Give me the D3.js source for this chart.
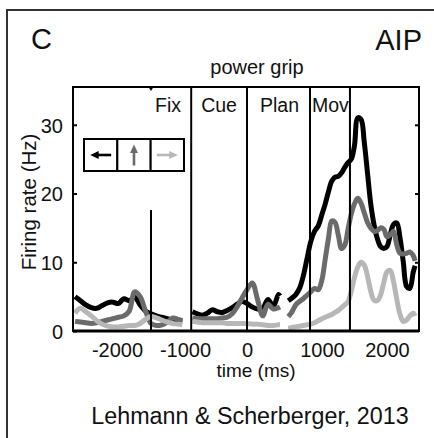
<!DOCTYPE html>
<html>
<head>
<meta charset="utf-8">
<script src="https://cdn.jsdelivr.net/npm/d3@7"></script>
<style>
  html, body { margin: 0; padding: 0; background: #fff; }
  svg { display: block; }
  text { font-family: "Liberation Sans", Arial, Helvetica, sans-serif; fill: #111; }
</style>
</head>
<body>
<svg id="chart" width="434" height="438"></svg>
<script>
// ---------------- data ----------------
const xTicks = [-2000, -1000, 0, 1000, 2000];
const yTicks = [0, 10, 20, 30];
const eventTimes = [-900, 0, 840, 1430];          // full-height epoch separators
const fixMarkTime = -1500;                       // partial marker line
const fixMarkValue = 17.6;
const epochNames = ["Fix", "Cue", "Plan", "Mov"];
const seriesNames = ["left", "up", "right"];
const seriesColors = ["#000000", "#6b6b6b", "#b7b7b7"];

const seg1Time = [-2620, -2540, -2460, -2380, -2300, -2220, -2140, -2060, -1980, -1900, -1820,
                  -1740, -1660, -1580, -1500, -1420, -1340, -1260, -1180, -1100, -1040];
const seg1Black = [5.0, 4.4, 3.8, 3.4, 3.3, 3.7, 4.1, 4.2, 4.0, 4.7, 4.4, 4.9, 3.8, 2.9, 2.5, 2.2, 2.0, 1.8, 1.6, 1.4, 1.3];
const seg1Dark  = [1.4, 1.3, 1.2, 1.1, 1.2, 1.4, 1.6, 1.8, 2.0, 2.2, 2.9, 5.7, 5.0, 2.9, 1.1, 0.8, 0.9, 1.3, 1.9, 1.7, 1.5];
const seg1Light = [2.6, 3.3, 2.8, 2.2, 1.5, 1.0, 0.7, 0.6, 0.6, 0.7, 0.8, 0.8, 1.1, 1.7, 2.1, 1.9, 1.6, 1.3, 1.1, 1.0, 0.9];

const seg2Time = [-880, -800, -720, -640, -560, -480, -400, -320, -240, -160, -80, 0, 70, 140, 210, 280, 350, 420, 440];
const seg2Black = [2.8, 2.5, 2.3, 2.6, 3.1, 2.8, 2.7, 3.0, 3.4, 3.9, 4.3, 4.0, 3.5, 3.2, 3.3, 4.6, 3.6, 5.3, 5.1];
const seg2Dark  = [1.9, 1.8, 1.8, 1.8, 1.8, 1.8, 1.9, 2.0, 2.5, 3.5, 4.8, 6.0, 7.0, 4.6, 2.2, 3.9, 3.2, 3.4, 3.5];
const seg2Light = [1.4, 1.3, 1.2, 1.2, 1.2, 1.2, 1.2, 1.1, 1.1, 1.1, 1.1, 1.1, 1.0, 1.0, 0.9, 0.8, 0.8, 0.9, 0.9];

const seg3Time = [550, 600, 650, 700, 750, 800, 850, 900, 950, 1000,
                  1050, 1100, 1150, 1200, 1250, 1300, 1350, 1400, 1450, 1500,
                  1550, 1600, 1650, 1700, 1750, 1800, 1850, 1900, 1950, 2000,
                  2050, 2100, 2150, 2200, 2250, 2300, 2350, 2400, 2430];
const seg3Black = [4.4, 4.8, 5.3, 6.2, 8.0, 10.5, 13.0, 14.5, 15.3, 17.0,
                   18.5, 20.3, 21.8, 22.4, 22.5, 23.0, 23.8, 24.5, 25.0, 27.0,
                   31.0, 30.8, 27.5, 23.0, 18.5, 15.5, 13.5, 12.3, 12.0, 12.3,
                   14.0, 15.5, 15.7, 13.5, 10.0, 6.5, 6.2, 8.5, 9.5];
const seg3Dark  = [2.1, 2.8, 3.8, 4.3, 4.7, 5.2, 5.7, 6.2, 6.0, 7.5,
                   10.5, 13.5, 16.0, 15.8, 14.0, 12.0, 12.5, 14.8, 17.0, 18.5,
                   19.3, 18.6, 17.2, 15.8, 15.0, 14.5, 14.6, 15.0, 14.8, 13.7,
                   14.0, 14.5, 12.5, 11.3, 11.2, 11.3, 11.5, 11.0, 10.2];
const seg3Light = [0.4, 0.5, 0.6, 0.7, 0.8, 0.9, 1.0, 1.2, 1.5, 1.8,
                   2.0, 2.2, 2.4, 2.7, 3.0, 3.4, 3.8, 4.3, 5.8, 7.8,
                   9.3, 10.0, 9.6, 8.0, 5.8, 4.5, 4.4, 5.2, 7.0, 8.6,
                   8.8, 7.2, 4.6, 2.4, 1.4, 1.6, 2.2, 2.6, 2.2];

// ---------------- layout ----------------
const svg = d3.select("#chart");
const W = 434, H = 438;
const plot = { left: 73, right: 419, top: 87, bottom: 331 };
const FONT = "'Liberation Sans', Arial, Helvetica, sans-serif";

// Piecewise (epoch-aligned) time axis
const xDomain = [-2650, -2000, -1000, 0, 1000, 2000, 2490];
const xRange  = [plot.left, 117, 185, 247, 322, 387, plot.right];
const x = d3.scaleLinear().domain(xDomain).range(xRange);
const y = d3.scaleLinear().domain([0, 35.5]).range([plot.bottom, plot.top]);
const fmt = d => String(d);   // plain hyphen-minus as in the original

svg.append("rect").attr("width", W).attr("height", H).attr("fill", "#fff");

// outer panel frame
svg.append("rect")
  .attr("x", 7).attr("y", 10).attr("width", 440).attr("height", 440)
  .attr("fill", "none").attr("stroke", "#333").attr("stroke-width", 2);

// panel letter and area
svg.append("text").attr("x", 31).attr("y", 49).attr("font-size", 29).text("C");
svg.append("text").attr("x", 422).attr("y", 50).attr("font-size", 29).attr("text-anchor", "end").text("AIP");
svg.append("text").attr("x", 257).attr("y", 74).attr("font-size", 20).attr("text-anchor", "middle").text("power grip");

// series lines
const segments = [
  { t: seg1Time, v: [seg1Black, seg1Dark, seg1Light] },
  { t: seg2Time, v: [seg2Black, seg2Dark, seg2Light] },
  { t: seg3Time, v: [seg3Black, seg3Dark, seg3Light] }
];
const line = d3.line().x(d => x(d[0])).y(d => y(d[1])).curve(d3.curveCatmullRom.alpha(0.5));
const gLines = svg.append("g");
seriesNames.forEach((name, si) => {
  segments.forEach(seg => {
    const pts = seg.t.map((t, i) => [t, seg.v[si][i]]);
    gLines.append("path")
      .datum(pts)
      .attr("d", line)
      .attr("fill", "none")
      .attr("stroke", seriesColors[si])
      .attr("stroke-width", 5)
      .attr("stroke-linejoin", "round")
      .attr("stroke-linecap", "butt");
  });
});

// epoch separator lines
svg.append("g").selectAll("line").data(eventTimes).join("line")
  .attr("x1", d => x(d)).attr("x2", d => x(d))
  .attr("y1", plot.top).attr("y2", plot.bottom)
  .attr("stroke", "#000").attr("stroke-width", 2);
svg.append("line")
  .attr("x1", x(fixMarkTime)).attr("x2", x(fixMarkTime))
  .attr("y1", y(fixMarkValue)).attr("y2", plot.bottom)
  .attr("stroke", "#000").attr("stroke-width", 2);
// small marker tick on top edge
svg.append("path")
  .attr("d", `M${x(fixMarkTime) - 2.5},${plot.top} L${x(fixMarkTime) + 2.5},${plot.top} L${x(fixMarkTime)},${plot.top + 4} Z`)
  .attr("fill", "#000");

// epoch labels
const epochLabelPos = [
  { t: fixMarkTime, dx: 4 },
  { t: eventTimes[0], dx: 10 },
  { t: eventTimes[1], dx: 13 },
  { t: eventTimes[2], dx: 2 }
];
svg.append("g").selectAll("text").data(epochNames).join("text")
  .attr("x", (d, i) => x(epochLabelPos[i].t) + epochLabelPos[i].dx)
  .attr("y", 112)
  .attr("font-size", 19.5)
  .text(d => d);

// axes
const yAxisL = d3.axisLeft(y).tickValues(yTicks).tickSize(-4).tickPadding(10).tickFormat(fmt);
const gy = svg.append("g").attr("transform", `translate(${plot.left},0)`).call(yAxisL);
gy.select(".domain").remove();
gy.selectAll("line").attr("stroke", "#000").attr("stroke-width", 2);
gy.selectAll("text").attr("font-size", 20).attr("dy", "0.36em").style("font-family", FONT).attr("fill", "#111");

const yAxisR = d3.axisRight(y).tickValues(yTicks.filter(d => d > 0)).tickSize(-4).tickFormat("");
const gyr = svg.append("g").attr("transform", `translate(${plot.right},0)`).call(yAxisR);
gyr.select(".domain").remove();
gyr.selectAll("line").attr("stroke", "#000").attr("stroke-width", 2);

const xAxis = d3.axisBottom(x).tickValues(xTicks).tickSize(0).tickPadding(12).tickFormat(fmt);
const gx = svg.append("g").attr("transform", `translate(0,${plot.bottom})`).call(xAxis);
gx.select(".domain").remove();
gx.selectAll("text").attr("font-size", 20).style("font-family", FONT).attr("fill", "#111");

// plot box
svg.append("rect")
  .attr("x", plot.left).attr("y", plot.top)
  .attr("width", plot.right - plot.left).attr("height", plot.bottom - plot.top)
  .attr("fill", "none").attr("stroke", "#000").attr("stroke-width", 2);
svg.append("line")
  .attr("x1", plot.left).attr("x2", plot.right).attr("y1", plot.bottom).attr("y2", plot.bottom)
  .attr("stroke", "#000").attr("stroke-width", 3);

// axis titles
svg.append("text").attr("x", 256).attr("y", 377).attr("font-size", 19).attr("text-anchor", "middle").text("time (ms)");
svg.append("text")
  .attr("transform", "translate(36,202) rotate(-90)")
  .attr("font-size", 20.5).attr("text-anchor", "middle").text("Firing rate (Hz)");

// credit
svg.append("text").attr("x", 250).attr("y", 424).attr("font-size", 23.3).attr("text-anchor", "middle").text("Lehmann & Scherberger, 2013");

// legend (direction arrows)
const leg = { x: 84, y: 139, w: 100, h: 32 };
const cellW = leg.w / 3;
const gLeg = svg.append("g");
seriesNames.forEach((name, i) => {
  gLeg.append("rect")
    .attr("x", leg.x + i * cellW).attr("y", leg.y)
    .attr("width", cellW).attr("height", leg.h)
    .attr("fill", "#fff").attr("stroke", "#000").attr("stroke-width", 2);
  const cx = leg.x + i * cellW + cellW / 2, cy = leg.y + leg.h / 2;
  const g = gLeg.append("g").attr("transform", `translate(${cx},${cy}) rotate(${name === "left" ? 180 : name === "up" ? -90 : 0})`);
  g.append("line").attr("x1", -10.5).attr("x2", 4).attr("y1", 0).attr("y2", 0)
    .attr("stroke", seriesColors[i]).attr("stroke-width", 2.6);
  g.append("path").attr("d", "M10.5,0 L2,-4 L2,4 Z").attr("fill", seriesColors[i]);
});
</script>
</body>
</html>
